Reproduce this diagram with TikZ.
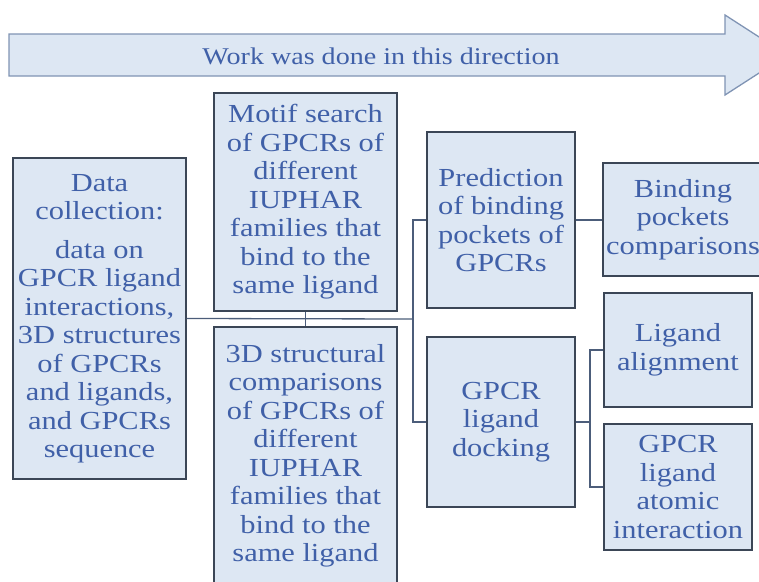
\documentclass[tikz,border=0pt]{standalone}
\usepackage{fontspec}
\setmainfont{Liberation Serif}[FakeStretch=1.17]
\usetikzlibrary{positioning}
\definecolor{boxfill}{HTML}{DDE7F3}
\definecolor{boxline}{HTML}{3B4656}
\definecolor{arrline}{HTML}{8094B4}
\definecolor{linkcol}{HTML}{4C5D7A}
\definecolor{txt}{HTML}{4060A8}
\begin{document}
\begin{tikzpicture}[x=1pt,y=-1pt,
  box/.style={draw=boxline, fill=boxfill, line width=1.4pt, text=txt, align=center,
    inner sep=0pt, font=\fontsize{26}{28.5}\selectfont},
  link/.style={draw=linkcol, line width=1.3pt}]
\useasboundingbox (0,0) rectangle (759,581);
% direction arrow
\path[draw=arrline, fill=boxfill, line width=1.3pt] (9,34) -- (725,34) -- (725,15) -- (787,55)
  -- (725,95) -- (725,76) -- (9,76) -- cycle;
\node[text=txt, font=\fontsize{24}{26}\selectfont] (work) at (381,56) {Work was done in this direction};

\node[box, minimum width=173, minimum height=321] (data) at (99.5,318.5)
  {Data\\collection:\\[10pt]data on\\GPCR ligand\\interactions,\\3D structures\\of GPCRs\\and ligands,\\and GPCRs\\sequence};
\node[box, minimum width=183, minimum height=218] (motif) at (305.5,202)
  {Motif search\\of GPCRs of\\different\\IUPHAR\\families that\\bind to the\\same ligand};
\node[box, minimum width=183, minimum height=258] (struct) at (305.5,456)
  {3D structural\\comparisons\\of GPCRs of\\different\\IUPHAR\\families that\\bind to the\\same ligand};
\node[box, minimum width=148, minimum height=176] (pred) at (501,220)
  {Prediction\\of binding\\pockets of\\GPCRs};
\node[box, minimum width=148, minimum height=170] (dock) at (501,422)
  {GPCR\\ligand\\docking};
\node[box, minimum width=160, minimum height=113] (bind) at (683,219.5)
  {Binding\\pockets\\comparisons};
\node[box, minimum width=148, minimum height=114] (align) at (678,350)
  {Ligand\\alignment};
\node[box, minimum width=148, minimum height=126] (atom) at (678,487)
  {GPCR\\ligand\\atomic\\interaction};

\coordinate (trunk) at (413,319);
\coordinate (fork) at (590,422);
\path[link] (data.east) -- (trunk);
\path[link] (motif.south) -- (struct.north);
\path[link] (pred.west) -| (trunk) |- (dock.west);
\path[link] (pred.east) -- (pred.east -| bind.west);
\path[link] (dock.east) -- (fork);
\path[link] (align.west) -| (fork) |- (atom.west);
\end{tikzpicture}
\end{document}
